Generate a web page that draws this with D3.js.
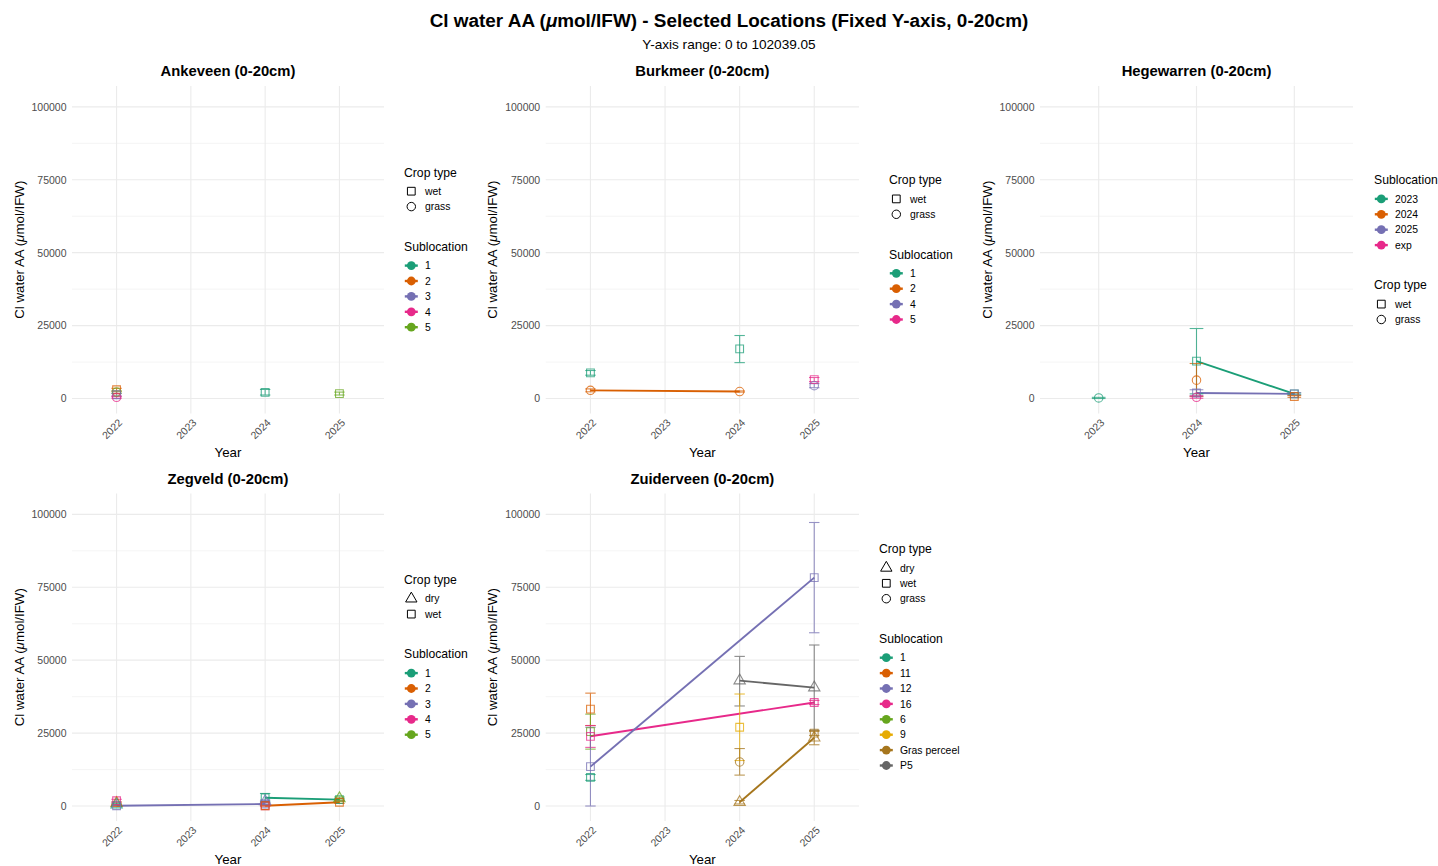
<!DOCTYPE html>
<html>
<head>
<meta charset="utf-8">
<script src="https://cdn.jsdelivr.net/npm/d3@7"></script>
<style>
  body { margin: 0; background: #fff; }
  svg { display: block; font-family: "Liberation Sans", Arial, Helvetica, sans-serif; }
</style>
</head>
<body>
<svg id="chart" width="1438" height="866"></svg>
<script>
// ---- data -------------------------------------------------------------
const yMax = 102039.05;
const yTicks = [0, 25000, 50000, 75000, 100000];
const yMinorTicks = [12500, 37500, 62500, 87500];

const locations = ["Ankeveen", "Burkmeer", "Hegewarren", "Zegveld", "Zuiderveen"];

const yearsAnkeveen   = [2022, 2023, 2024, 2025];
const yearsBurkmeer   = [2022, 2023, 2024, 2025];
const yearsHegewarren = [2023, 2024, 2025];
const yearsZegveld    = [2022, 2023, 2024, 2025];
const yearsZuiderveen = [2022, 2023, 2024, 2025];

const subsAnkeveen   = ["1", "2", "3", "4", "5"];
const subsBurkmeer   = ["1", "2", "4", "5"];
const subsHegewarren = ["2023", "2024", "2025", "exp"];
const subsZegveld    = ["1", "2", "3", "4", "5"];
const subsZuiderveen = ["1", "11", "12", "16", "6", "9", "Gras perceel", "P5"];

const cropsAnkeveen   = ["wet", "grass"];
const cropsBurkmeer   = ["wet", "grass"];
const cropsHegewarren = ["wet", "grass"];
const cropsZegveld    = ["dry", "wet"];
const cropsZuiderveen = ["dry", "wet", "grass"];

// rows: [year, sublocation, crop type, mean, lower, upper, series id]
const rowsAnkeveen = [
  [2022, "2", "wet",   3000, 2500, 3500, "a2w"],
  [2022, "5", "grass", 2200, 1800, 2600, "a5g"],
  [2022, "3", "wet",   1300,  900, 1700, "a3w"],
  [2022, "4", "grass",  400,  100,  700, "a4g"],
  [2024, "1", "wet",   2100, 1200, 3100, "a1w"],
  [2025, "5", "wet",   1700, 1200, 2200, "a5w"]
];
const rowsBurkmeer = [
  [2022, "1", "wet",    8800,  8000,  9600, "b1w-22"],
  [2022, "2", "grass",  2800,  2300,  3300, "b2g"],
  [2024, "1", "wet",   17000, 12300, 21600, "b1w-24"],
  [2024, "2", "grass",  2400,  2200,  2600, "b2g"],
  [2025, "5", "wet",    6500,  5800,  7200, "b5w"],
  [2025, "4", "grass",  4400,  3700,  5100, "b4g"]
];
const rowsHegewarren = [
  [2023, "2023", "grass",   200,    0,   400, "h23g"],
  [2024, "2023", "wet",   12800, 1600, 24000, "h23w"],
  [2024, "2024", "grass",  6300,  700, 12000, "h24g"],
  [2024, "2025", "wet",    1900,  900,  3000, "h25w"],
  [2024, "exp",  "grass",   400,  100,   900, "hexg"],
  [2025, "2023", "wet",    1600, 1300,  1900, "h23w"],
  [2025, "2025", "wet",    1600, 1200,  2000, "h25w"],
  [2025, "2024", "wet",     700,  400,  1000, "h24w"]
];
const rowsZegveld = [
  [2022, "4", "wet", 1800, 1300, 2300, "z4w-22"],
  [2022, "2", "dry", 1000,  600, 1400, "z2d"],
  [2022, "1", "dry",  500,  200,  800, "z1d"],
  [2022, "3", "wet",  100,    0,  300, "z3w"],
  [2024, "1", "wet", 2850, 1500, 4300, "z1w"],
  [2024, "3", "dry", 1600, 1200, 2000, "z3d"],
  [2024, "3", "wet",  700,  400, 1000, "z3w"],
  [2024, "4", "wet",  100,    0,  300, "z4w-24"],
  [2024, "2", "wet",  100,    0,  300, "z2w"],
  [2025, "1", "wet", 2200, 1800, 2600, "z1w"],
  [2025, "5", "dry", 2600, 2100, 3100, "z5d"],
  [2025, "2", "wet", 1300,  900, 1700, "z2w"]
];
const rowsZuiderveen = [
  [2022, "1",  "wet",  9800,  8800, 10800, "u1w"],
  [2022, "11", "wet", 33200, 27600, 38700, "u11w"],
  [2022, "6",  "wet", 25500, 19500, 31500, "u6w"],
  [2022, "16", "wet", 23900, 20100, 27600, "u16w"],
  [2022, "12", "wet", 13500,     0, 27000, "u12w"],
  [2024, "P5", "dry", 43000, 34300, 51300, "up5d"],
  [2024, "9",  "wet", 27000, 15600, 38400, "u9w"],
  [2024, "Gras perceel", "grass", 15100, 10600, 19700, "ugg"],
  [2024, "Gras perceel", "dry",    1300,   700,  1900, "ugd"],
  [2025, "12", "wet", 78300, 59400, 97200, "u12w"],
  [2025, "P5", "dry", 40600, 26000, 55200, "up5d"],
  [2025, "16", "wet", 35500, 34800, 36200, "u16w"],
  [2025, "Gras perceel", "wet", 25000, 24200, 25800, "ugw"],
  [2025, "Gras perceel", "dry", 23400, 21000, 25600, "ugd"]
];

const dark2 = ["#1B9E77", "#D95F02", "#7570B3", "#E7298A", "#66A61E", "#E6AB02", "#A6761D", "#666666"];

// ---- panel setup ------------------------------------------------------
const panels = [
  { name: "Ankeveen",   years: yearsAnkeveen,   subs: subsAnkeveen,   crops: cropsAnkeveen,   rows: rowsAnkeveen,
    left: 72,    right: 384,  top: 86,    legendX: 404,  subFirst: false },
  { name: "Burkmeer",   years: yearsBurkmeer,   subs: subsBurkmeer,   crops: cropsBurkmeer,   rows: rowsBurkmeer,
    left: 545.7, right: 859,  top: 86,    legendX: 889,  subFirst: false },
  { name: "Hegewarren", years: yearsHegewarren, subs: subsHegewarren, crops: cropsHegewarren, rows: rowsHegewarren,
    left: 1040,  right: 1353, top: 86,    legendX: 1374, subFirst: true },
  { name: "Zegveld",    years: yearsZegveld,    subs: subsZegveld,    crops: cropsZegveld,    rows: rowsZegveld,
    left: 72,    right: 384,  top: 493.5, legendX: 404,  subFirst: false },
  { name: "Zuiderveen", years: yearsZuiderveen, subs: subsZuiderveen, crops: cropsZuiderveen, rows: rowsZuiderveen,
    left: 545.7, right: 859,  top: 493.5, legendX: 879,  subFirst: false }
];
const panelH = 327.4;

const shapeOf = { dry: d3.symbolTriangle, wet: d3.symbolSquare, grass: d3.symbolCircle };
const sizeOf  = { dry: 56, wet: 60, grass: 56 };

const svg = d3.select("#chart");

// ---- overall titles ---------------------------------------------------
const title = svg.append("text")
  .attr("x", 729).attr("y", 26.5)
  .attr("text-anchor", "middle")
  .attr("font-size", 18.9).attr("font-weight", "bold").attr("fill", "#000");
title.append("tspan").text("Cl water AA (");
title.append("tspan").attr("font-style", "italic").text("\u03BC");
title.append("tspan").text("mol/IFW) - Selected Locations (Fixed Y-axis, 0-20cm)");

svg.append("text")
  .attr("x", 729).attr("y", 48.8)
  .attr("text-anchor", "middle")
  .attr("font-size", 13.6).attr("fill", "#000")
  .text("Y-axis range: 0 to " + yMax.toFixed(2));

// ---- each panel -------------------------------------------------------
panels.forEach(p => {
  const bottom = p.top + panelH;
  const g = svg.append("g");

  const x = d3.scaleLinear()
    .domain([d3.min(p.years) - 0.6, d3.max(p.years) + 0.6])
    .range([p.left, p.right]);
  const y = d3.scaleLinear()
    .domain([-0.05 * yMax, 1.05 * yMax])
    .range([bottom, p.top]);
  const color = d3.scaleOrdinal().domain(p.subs).range(dark2);

  // grid
  g.append("g").selectAll("line").data(yMinorTicks).join("line")
    .attr("x1", p.left).attr("x2", p.right)
    .attr("y1", d => y(d)).attr("y2", d => y(d))
    .attr("stroke", "#F1F1F1").attr("stroke-width", 0.8);
  g.append("g").selectAll("line").data(yTicks).join("line")
    .attr("x1", p.left).attr("x2", p.right)
    .attr("y1", d => y(d)).attr("y2", d => y(d))
    .attr("stroke", "#EBEBEB").attr("stroke-width", 1.1);
  g.append("g").selectAll("line").data(p.years).join("line")
    .attr("x1", d => x(d)).attr("x2", d => x(d))
    .attr("y1", p.top).attr("y2", bottom)
    .attr("stroke", "#EBEBEB").attr("stroke-width", 1.1);

  // y axis
  const yAxis = g.append("g")
    .attr("transform", `translate(${p.left},0)`)
    .call(d3.axisLeft(y).tickValues(yTicks).tickFormat(d3.format("d")).tickSize(0).tickPadding(5.5));
  yAxis.select(".domain").remove();
  yAxis.selectAll("text")
    .attr("font-family", "Liberation Sans, Arial, sans-serif")
    .attr("font-size", 10.5).attr("fill", "#4D4D4D");

  // x axis
  const xAxis = g.append("g")
    .attr("transform", `translate(0,${bottom})`)
    .call(d3.axisBottom(x).tickValues(p.years).tickFormat(d3.format("d")).tickSize(0));
  xAxis.select(".domain").remove();
  xAxis.selectAll("text")
    .attr("font-family", "Liberation Sans, Arial, sans-serif")
    .attr("font-size", 10.5).attr("fill", "#4D4D4D")
    .attr("text-anchor", "end")
    .attr("y", 0).attr("dy", "0.72em")
    .attr("transform", "translate(0.5,4.6) rotate(-45)");

  // axis titles
  g.append("text")
    .attr("x", (p.left + p.right) / 2).attr("y", bottom + 43.2)
    .attr("text-anchor", "middle").attr("font-size", 13.3).attr("fill", "#000")
    .text("Year");
  const yt = g.append("text")
    .attr("transform", `translate(${p.left - 48.5},${(p.top + bottom) / 2}) rotate(-90)`)
    .attr("text-anchor", "middle").attr("font-size", 13.3).attr("fill", "#000");
  yt.append("tspan").text("Cl water AA (");
  yt.append("tspan").attr("font-style", "italic").text("\u03BC");
  yt.append("tspan").text("mol/IFW)");

  // panel title
  g.append("text")
    .attr("x", (p.left + p.right) / 2).attr("y", p.top - 10)
    .attr("text-anchor", "middle").attr("font-size", 14.8).attr("font-weight", "bold").attr("fill", "#000")
    .text(p.name + " (0-20cm)");

  // records
  const recs = p.rows.map(r => ({ year: r[0], sub: r[1], crop: r[2], mean: r[3], lo: r[4], hi: r[5], id: r[6] }));
  const series = d3.groups(recs, d => d.id).filter(([, v]) => v.length > 1);

  const line = d3.line().x(d => x(d.year)).y(d => y(d.mean));
  g.append("g").selectAll("path").data(series).join("path")
    .attr("d", ([, v]) => line(v.slice().sort((a, b) => a.year - b.year)))
    .attr("fill", "none")
    .attr("stroke", ([, v]) => color(v[0].sub))
    .attr("stroke-width", 1.9);

  // error bars
  const cap = x(0.07) - x(0);
  const eb = g.append("g").selectAll("g").data(recs).join("g")
    .attr("stroke", d => color(d.sub)).attr("stroke-width", 1.1).attr("opacity", 0.75);
  eb.append("line")
    .attr("x1", d => x(d.year)).attr("x2", d => x(d.year))
    .attr("y1", d => y(d.lo)).attr("y2", d => y(d.hi));
  eb.append("line")
    .attr("x1", d => x(d.year) - cap).attr("x2", d => x(d.year) + cap)
    .attr("y1", d => y(d.lo)).attr("y2", d => y(d.lo));
  eb.append("line")
    .attr("x1", d => x(d.year) - cap).attr("x2", d => x(d.year) + cap)
    .attr("y1", d => y(d.hi)).attr("y2", d => y(d.hi));

  // points
  g.append("g").selectAll("path").data(recs).join("path")
    .attr("transform", d => `translate(${x(d.year)},${y(d.mean)})`)
    .attr("d", d => d3.symbol().type(shapeOf[d.crop]).size(sizeOf[d.crop])())
    .attr("fill", "none")
    .attr("stroke", d => color(d.sub))
    .attr("stroke-width", 1.1)
    .attr("opacity", 0.75);

  // legends
  const groups = [
    { title: "Crop type", items: p.crops, kind: "crop" },
    { title: "Sublocation", items: p.subs, kind: "sub" }
  ];
  if (p.subFirst) groups.reverse();
  let total = 0;
  groups.forEach((gr, i) => {
    if (i > 0) total += 40;
    total += 19 + (gr.items.length - 1) * 15.4;
  });
  let cy = (p.top + bottom) / 2 - total / 2;
  const lg = g.append("g");
  const symX = p.legendX + 7.3;
  const labX = p.legendX + 21;
  groups.forEach((gr, i) => {
    if (i > 0) cy += 40;
    lg.append("text").attr("x", p.legendX).attr("y", cy + 4.3)
      .attr("font-size", 12.2).attr("fill", "#000").text(gr.title);
    cy += 19;
    gr.items.forEach((it, j) => {
      if (j > 0) cy += 15.4;
      if (gr.kind === "crop") {
        lg.append("path")
          .attr("transform", `translate(${symX},${cy})`)
          .attr("d", d3.symbol().type(shapeOf[it]).size(sizeOf[it])())
          .attr("fill", "none").attr("stroke", "#000").attr("stroke-width", 1);
      } else {
        lg.append("line")
          .attr("x1", symX - 6.5).attr("x2", symX + 6.5).attr("y1", cy).attr("y2", cy)
          .attr("stroke", color(it)).attr("stroke-width", 2.4);
        lg.append("circle").attr("cx", symX).attr("cy", cy).attr("r", 4.4)
          .attr("fill", color(it));
      }
      lg.append("text").attr("x", labX).attr("y", cy + 3.7)
        .attr("font-size", 10.4).attr("fill", "#000").text(it);
    });
  });
});
</script>
</body>
</html>
